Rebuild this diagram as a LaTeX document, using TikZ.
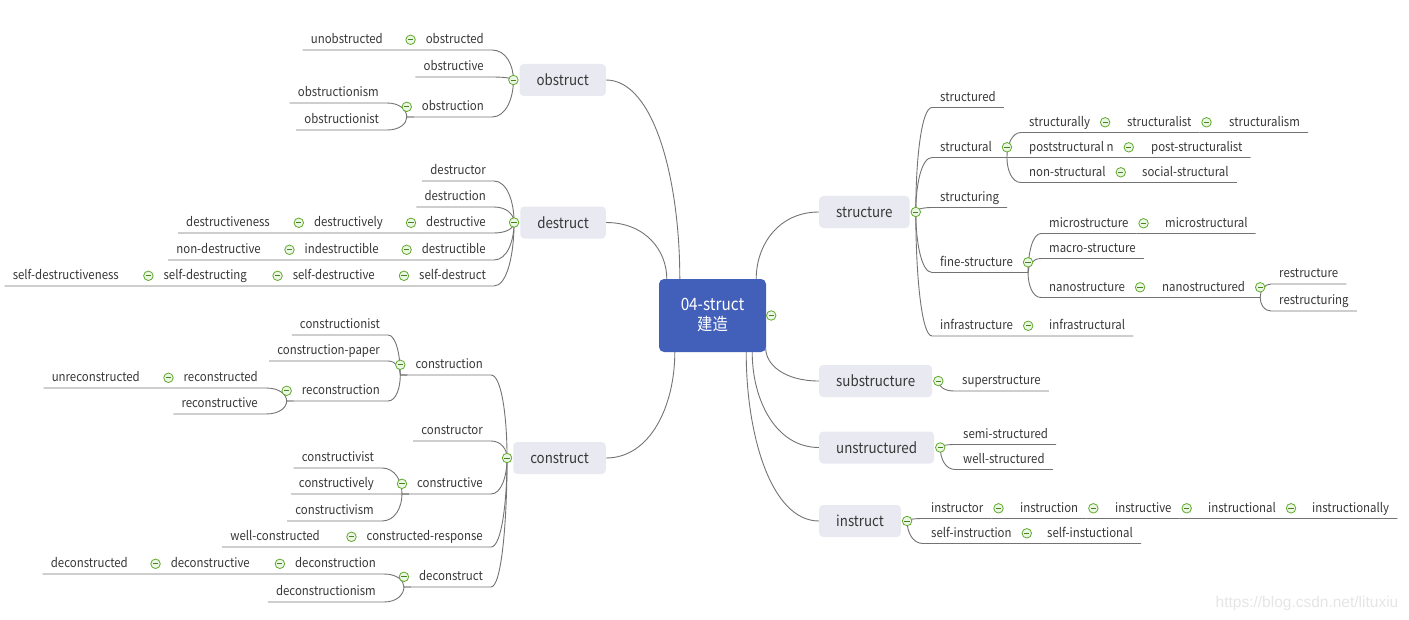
\documentclass[tikz,border=0pt]{standalone}
\usepackage{fontspec}
\setmainfont{Noto Sans CJK SC}[FakeStretch=0.9]
\newfontfamily\markfont{Liberation Sans}
\usetikzlibrary{calc}

\definecolor{rootblue}{RGB}{66,96,186}
\definecolor{boxfill}{RGB}{232,233,241}
\definecolor{linegray}{RGB}{115,115,115}
\definecolor{textgray}{RGB}{55,55,55}
\definecolor{togline}{RGB}{96,170,44}
\definecolor{togfill}{RGB}{236,246,228}
\definecolor{togbar}{RGB}{70,130,30}

\pgfdeclarelayer{bg}
\pgfsetlayers{bg,main}

\begin{document}
\begin{tikzpicture}[
    x=1bp, y=-1bp,
    root/.style={rectangle, rounded corners=5bp, fill=rootblue, text=white,
                 minimum width=107bp, minimum height=73bp, align=center,
                 font=\fontsize{17bp}{20bp}\selectfont},
    branch/.style={rectangle, rounded corners=4bp, fill=boxfill, text=textgray,
                   inner xsep=17bp, minimum height=32bp,
                   font=\fontsize{14.8bp}{18bp}\selectfont},
    word/.style={inner xsep=8bp, inner ysep=2.5bp, text height=10bp, text depth=3.5bp,
                 text=textgray, font=\fontsize{12.7bp}{15bp}\selectfont},
    lw/.style={word, anchor=south east},
    rw/.style={word, anchor=south west},
    tog/.style={circle, draw=togline, fill=togfill, line width=0.8bp,
                minimum size=9.5bp, inner sep=0pt,
                path picture={\draw[togbar, line width=0.9bp]
                  ([xshift=-2.6bp]path picture bounding box.center) --
                  ([xshift=2.6bp]path picture bounding box.center);}},
    link/.style={draw=linegray, line width=0.9bp},
    tw/.style={to path={let \p1=(\tikztostart), \p2=(\tikztotarget) in
                 .. controls ($(\p1)!0.5!(\x1,\y2)$) and ($(\p2)!0.65!(\x1,\y2)$)
                 .. (\tikztotarget) \tikztonodes}}
  ]
  \useasboundingbox (0,0) rectangle (1409,620);

  % centre and main branches
  \node[root] (root) at (712.5,315.5) {04-struct\\建造};
  \node[branch, anchor=east] (obstruct)     at (606,80)    {obstruct};
  \node[branch, anchor=east] (destruct)     at (606,222.5) {destruct};
  \node[branch, anchor=east] (construct)    at (606,458)   {construct};
  \node[branch, anchor=west] (structure)    at (819,212)   {structure};
  \node[branch, anchor=west] (substructure) at (819,381)   {substructure};
  \node[branch, anchor=west] (unstructured) at (819,447.5) {unstructured};
  \node[branch, anchor=west] (instruct)     at (819,521)   {instruct};

  % obstruct
  \node[lw] (obsd)    at (492,50)  {obstructed};
  \node[lw] (unobsd)  at (391,50)  {unobstructed};
  \node[lw] (obsv)    at (492,77)  {obstructive};
  \node[lw] (obsn)    at (492,117) {obstruction};
  \node[lw] (obsnism) at (387,103) {obstructionism};
  \node[lw] (obsnist) at (387,130) {obstructionist};

  % destruct
  \node[lw] (destor)    at (494,181) {destructor};
  \node[lw] (deston)    at (494,207) {destruction};
  \node[lw] (destive)   at (494,233) {destructive};
  \node[lw] (destly)    at (391,233) {destructively};
  \node[lw] (destness)  at (278,233) {destructiveness};
  \node[lw] (destible)  at (494,260) {destructible};
  \node[lw] (indest)    at (387,260) {indestructible};
  \node[lw] (nondest)   at (269,260) {non-destructive};
  \node[lw] (selfd)     at (494,286) {self-destruct};
  \node[lw] (selfdive)  at (383,286) {self-destructive};
  \node[lw] (selfding)  at (255,286) {self-destructing};
  \node[lw] (selfdness) at (127,286) {self-destructiveness};

  % construct
  \node[lw] (constion)  at (491,375) {construction};
  \node[lw] (constist)  at (388,335) {constructionist};
  \node[lw] (paper)     at (388,361) {construction-paper};
  \node[lw] (recon)     at (388,401) {reconstruction};
  \node[lw] (recond)    at (266,388) {reconstructed};
  \node[lw] (unrecond)  at (148,388) {unreconstructed};
  \node[lw] (reconive)  at (266,414) {reconstructive};
  \node[lw] (constor)   at (491,441) {constructor};
  \node[lw] (constive)  at (491,494) {constructive};
  \node[lw] (constvist) at (382,468) {constructivist};
  \node[lw] (constly)   at (382,494) {constructively};
  \node[lw] (constvism) at (382,521) {constructivism};
  \node[lw] (constresp) at (491,547) {constructed-response};
  \node[lw] (wellcon)   at (328,547) {well-constructed};
  \node[lw] (decon)     at (491,587) {deconstruct};
  \node[lw] (decontion) at (384,574) {deconstruction};
  \node[lw] (deconive)  at (258,574) {deconstructive};
  \node[lw] (decond)    at (136,574) {deconstructed};
  \node[lw] (deconism)  at (384,602) {deconstructionism};

  % structure
  \node[rw] (strd)       at (932,107.5)  {structured};
  \node[rw] (strl)       at (932,157.5)  {structural};
  \node[rw] (strly)      at (1021,132.5) {structurally};
  \node[rw] (strist)     at (1119,132.5) {structuralist};
  \node[rw] (strism)     at (1221,132.5) {structuralism};
  \node[rw] (poststr)    at (1021,157.5) {poststructural n};
  \node[rw] (poststrist) at (1143,157.5) {post-structuralist};
  \node[rw] (nonstr)     at (1021,182.5) {non-structural};
  \node[rw] (socstr)     at (1134,182.5) {social-structural};
  \node[rw] (string)     at (932,207.5)  {structuring};
  \node[rw] (fine)       at (932,272.5)  {fine-structure};
  \node[rw] (micro)      at (1041,233.5) {microstructure};
  \node[rw] (microl)     at (1157,233.5) {microstructural};
  \node[rw] (macro)      at (1041,258.5) {macro-structure};
  \node[rw] (nano)       at (1041,297.5) {nanostructure};
  \node[rw] (nanod)      at (1154,297.5) {nanostructured};
  \node[rw] (restr)      at (1271,284)   {restructure};
  \node[rw] (restring)   at (1271,311)   {restructuring};
  \node[rw] (infra)      at (932,336)    {infrastructure};
  \node[rw] (infral)     at (1041,336)   {infrastructural};

  % substructure, unstructured, instruct
  \node[rw] (super)    at (954,391)    {superstructure};
  \node[rw] (semi)     at (955,444.5)  {semi-structured};
  \node[rw] (well)     at (955,469.5)  {well-structured};
  \node[rw] (instor)   at (923,518.5)  {instructor};
  \node[rw] (inston)   at (1012,518.5) {instruction};
  \node[rw] (instive)  at (1107,518.5) {instructive};
  \node[rw] (instal)   at (1200,518.5) {instructional};
  \node[rw] (instally) at (1304,518.5) {instructionally};
  \node[rw] (selfin)   at (923,543.5)  {self-instruction};
  \node[rw] (selfinal) at (1039,543.5) {self-instuctional};

  % fold marks
  \node[tog] (k-root) at ([xshift=5bp]root.east) {};
  \foreach \b in {obstruct,destruct,construct}
    \node[tog] (k-\b) at ([xshift=-6bp]\b.west) {};
  \foreach \b in {structure,substructure,unstructured,instruct}
    \node[tog] (k-\b) at ([xshift=6bp]\b.east) {};
  \foreach \n in {obsd,obsn,destive,destly,destible,indest,selfd,selfdive,selfding,
                  constion,recon,recond,constive,constresp,decon,decontion,deconive}
    \node[tog] (k-\n) at ([xshift=-7bp,yshift=4bp]\n.base west) {};
  \foreach \n in {strl,strly,strist,poststr,nonstr,fine,micro,nano,nanod,infra,
                  instor,inston,instive,instal,selfin}
    \node[tog] (k-\n) at ([xshift=7bp,yshift=4bp]\n.base east) {};

  \node[text=black!10, font=\markfont\fontsize{15.5bp}{18bp}\selectfont] (mark)
    at (1307,603) {https://blog.csdn.net/lituxiu};

  \begin{pgfonlayer}{bg}
    % centre to branches
    \draw[link] ([xshift=21bp]root.north west) to[tw] (obstruct.east);
    \draw[link] ([xshift=8bp]root.north west) to[tw] (destruct.east);
    \draw[link] ([xshift=16bp]root.south west) to[tw] (construct.east);
    \draw[link] ([xshift=-10bp]root.north east) to[tw] (structure.west);
    \draw[link] ([xshift=-0.5bp,yshift=4bp]root.south east) to[tw] (substructure.west);
    \draw[link] ([xshift=-14bp]root.south east) to[tw] (unstructured.west);
    \draw[link] ([xshift=-20bp]root.south east) to[tw] (instruct.west);

    % left side
    \foreach \b/\c in {obstruct/obsd, obstruct/obsv, obstruct/obsn,
                       destruct/destor, destruct/deston, destruct/destive,
                       destruct/destible, destruct/selfd,
                       construct/constion, construct/constor, construct/constive,
                       construct/constresp, construct/decon}
      \draw[link] (k-\b.center) to[tw] (\c.south east) -- (\c.south west);
    \foreach \p/\c in {obsd/unobsd, obsn/obsnism, obsn/obsnist,
                       destive/destly, destly/destness, destible/indest, indest/nondest,
                       selfd/selfdive, selfdive/selfding, selfding/selfdness,
                       constion/constist, constion/paper, constion/recon,
                       recon/recond, recond/unrecond, recon/reconive,
                       constive/constvist, constive/constly, constive/constvism,
                       constresp/wellcon, decon/decontion, decontion/deconive,
                       deconive/decond, decon/deconism}
      \draw[link] (\p.south west) -- (k-\p |- \p.south) to[tw] (\c.south east) -- (\c.south west);

    % right side
    \foreach \b/\c in {structure/strd, structure/strl, structure/string,
                       structure/fine, structure/infra, substructure/super,
                       unstructured/semi, unstructured/well,
                       instruct/instor, instruct/selfin}
      \draw[link] (k-\b.center) to[tw] (\c.south west) -- (\c.south east);
    \foreach \p/\c in {strl/strly, strly/strist, strist/strism, strl/poststr,
                       poststr/poststrist, strl/nonstr, nonstr/socstr,
                       fine/micro, micro/microl, fine/macro, fine/nano, nano/nanod,
                       nanod/restr, nanod/restring, infra/infral,
                       instor/inston, inston/instive, instive/instal, instal/instally,
                       selfin/selfinal}
      \draw[link] (\p.south east) -- (k-\p |- \p.south) to[tw] (\c.south west) -- (\c.south east);
  \end{pgfonlayer}
\end{tikzpicture}
\end{document}
